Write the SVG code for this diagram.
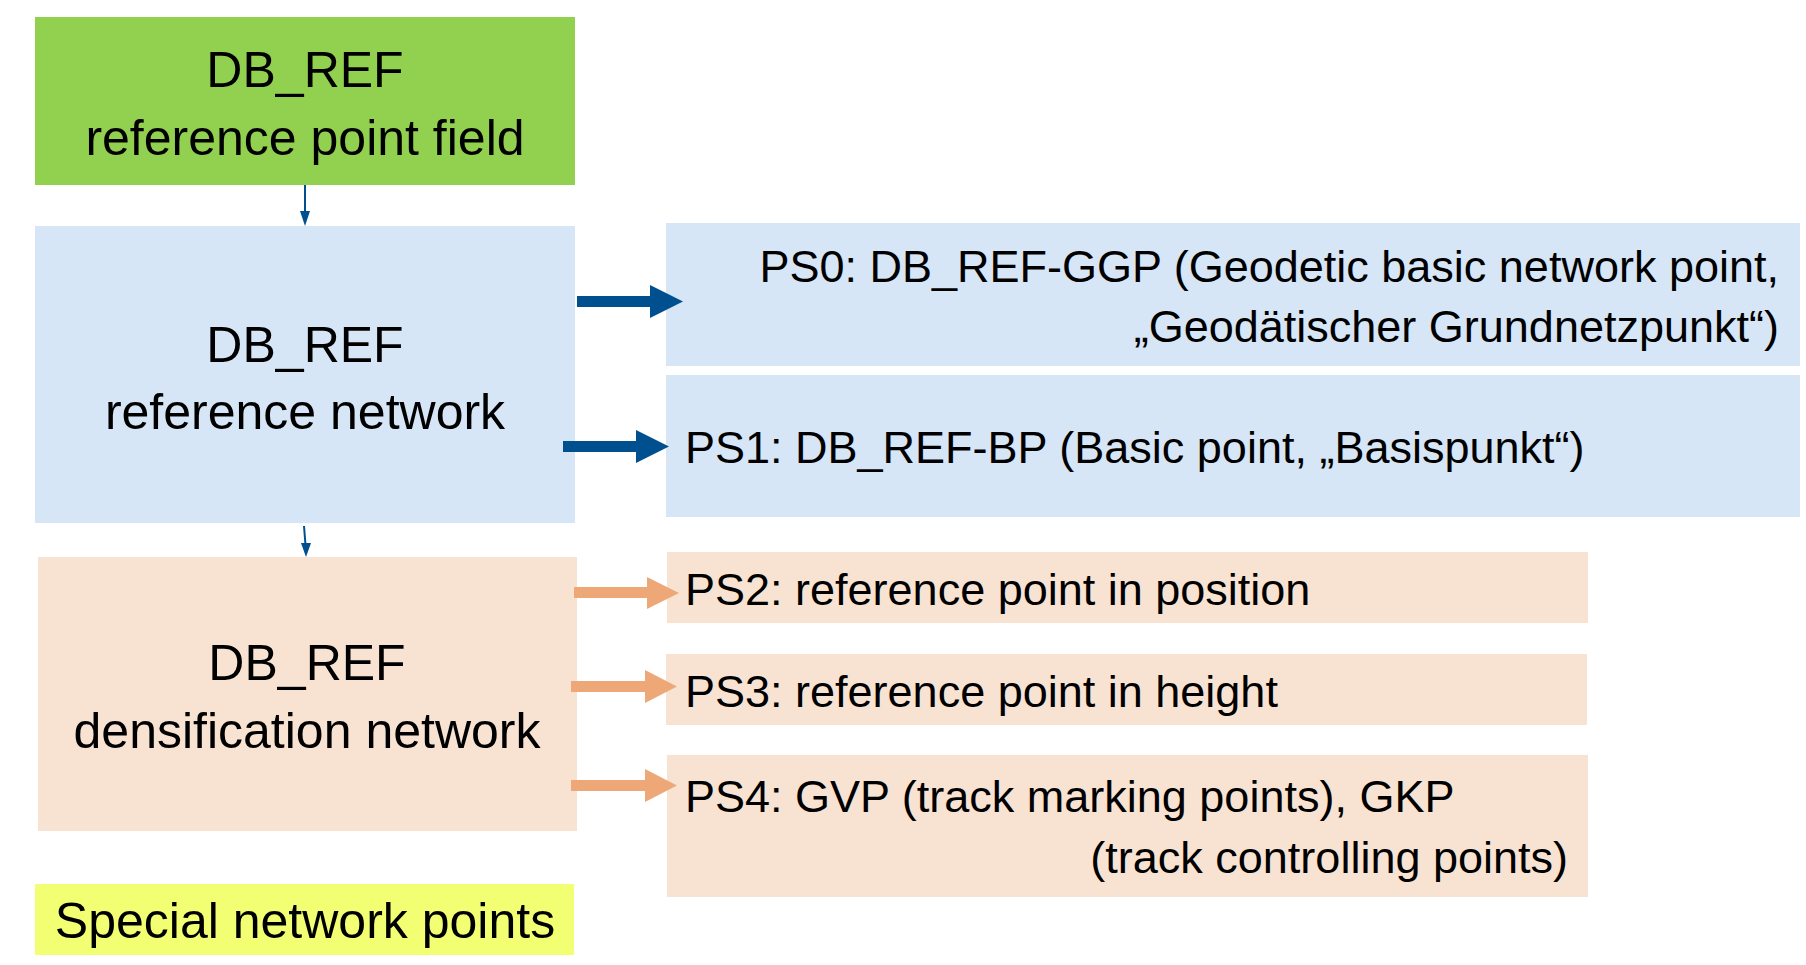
<svg xmlns="http://www.w3.org/2000/svg" width="1806" height="965" viewBox="0 0 1806 965">
<style>
.t{font-family:"Liberation Sans",Arial,sans-serif;fill:#000}
.l{font-size:50px;text-anchor:middle}
.r{font-size:45px}
.blue{fill:#D6E6F6}
.peach{fill:#F8E3D3}
.ba{fill:#00508F}
.oa{fill:#EEA878}
</style>
<rect width="1806" height="965" fill="#fff"/>
<g id="field">
<rect x="35" y="17" width="540" height="168" fill="#92D050"/>
<text class="t l" x="305" y="87">DB_REF</text>
<text class="t l" x="305" y="155">reference point field</text>
</g>
<g id="refnet">
<rect x="35" y="226" width="540" height="297" class="blue"/>
<text class="t l" x="305" y="362">DB_REF</text>
<text class="t l" x="305" y="429">reference network</text>
</g>
<g id="densnet">
<rect x="38" y="557" width="539" height="274" class="peach"/>
<text class="t l" x="307" y="680">DB_REF</text>
<text class="t l" x="307" y="748">densification network</text>
</g>
<g id="special">
<rect x="35" y="884" width="539" height="71" fill="#F3FF73"/>
<text class="t l" x="305" y="938">Special network points</text>
</g>
<g id="ps0">
<rect x="666" y="223" width="1134" height="143" class="blue"/>
<text class="t r" x="1779" y="282" text-anchor="end">PS0: DB_REF-GGP (Geodetic basic network point,</text>
<text class="t r" x="1779" y="342" text-anchor="end">„Geodätischer Grundnetzpunkt“)</text>
</g>
<g id="ps1">
<rect x="666" y="375" width="1134" height="142" class="blue"/>
<text class="t r" x="685" y="463">PS1: DB_REF-BP (Basic point, „Basispunkt“)</text>
</g>
<g id="ps2">
<rect x="667" y="552" width="921" height="71" class="peach"/>
<text class="t r" x="685" y="605">PS2: reference point in position</text>
</g>
<g id="ps3">
<rect x="666" y="654" width="921" height="71" class="peach"/>
<text class="t r" x="685" y="707">PS3: reference point in height</text>
</g>
<g id="ps4">
<rect x="667" y="755" width="921" height="142" class="peach"/>
<text class="t r" x="685" y="812">PS4: GVP (track marking points), GKP</text>
<text class="t r" x="1568" y="873" text-anchor="end">(track controlling points)</text>
</g>
<g id="connectors">
<line x1="305" y1="185" x2="305" y2="213" stroke="#00508F" stroke-width="2"/>
<polygon class="ba" points="300,211 310,211 305,226"/>
<line x1="304" y1="526" x2="305.5" y2="545" stroke="#00508F" stroke-width="2"/>
<polygon class="ba" points="301,543 311,543 306,557"/>
<polygon class="ba" points="577,296 650,296 650,285 683,301.5 650,318 650,307 577,307"/>
<polygon class="ba" points="563,441 636,441 636,430 669,446.5 636,463 636,452 563,452"/>
<polygon class="oa" points="574,587 647,587 647,577 679,593 647,609 647,598 574,598"/>
<polygon class="oa" points="571,681 645,681 645,670 677,686.5 645,703 645,692 571,692"/>
<polygon class="oa" points="571,780 645,780 645,769 677,785.5 645,802 645,791 571,791"/>
</g>
</svg>
